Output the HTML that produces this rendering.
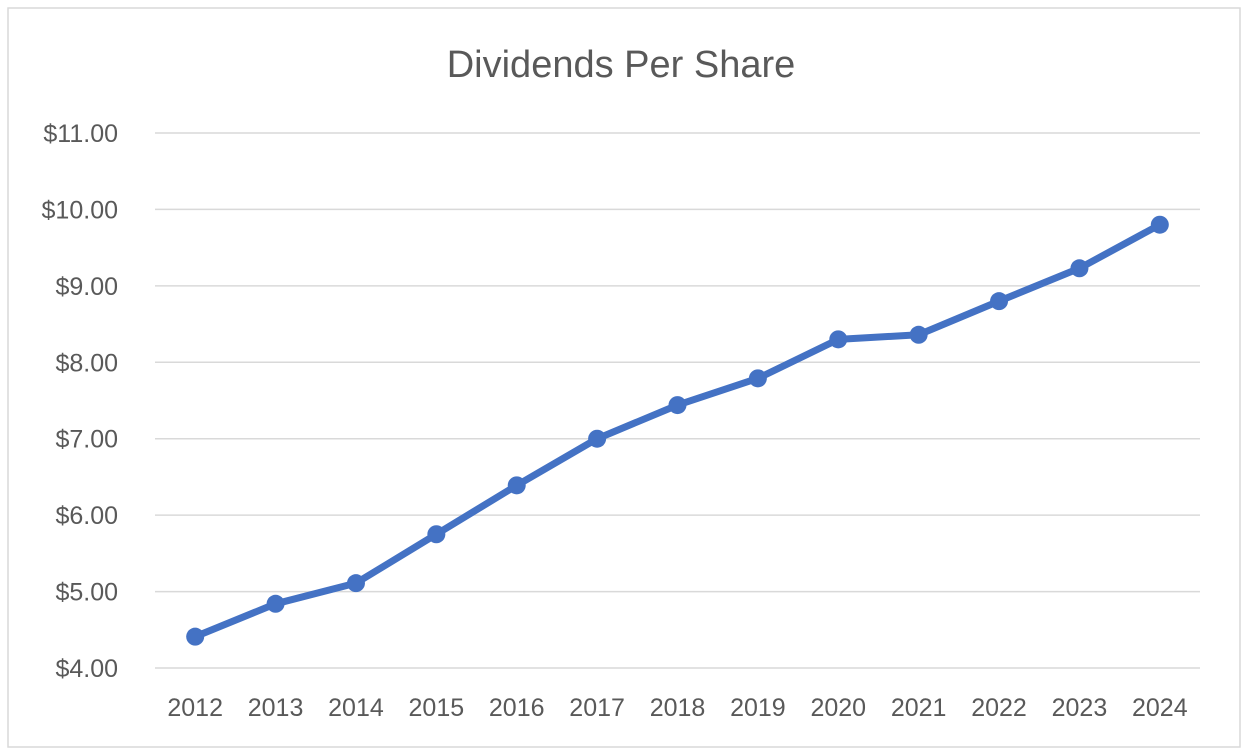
<!DOCTYPE html>
<html><head><meta charset="utf-8"><style>
html,body{margin:0;padding:0;background:#fff;}
svg{display:block;}
text{font-family:"Liberation Sans",sans-serif;fill:#595959;}
</style></head><body>
<svg id="chart" width="1248" height="755">
<rect x="8" y="8" width="1232" height="739" fill="#fff" stroke="#d9d9d9" stroke-width="1.5"/>
<text x="621" y="77" font-size="38" text-anchor="middle">Dividends Per Share</text>
<g id="grid"></g><g id="yticks"></g><g id="xticks"></g><g id="series"></g>
</svg>
<script>
const years=["2012","2013","2014","2015","2016","2017","2018","2019","2020","2021","2022","2023","2024"];
const dividends=[4.41,4.84,5.11,5.75,6.39,7.00,7.44,7.79,8.30,8.36,8.80,9.23,9.80];
const yTicks=[4,5,6,7,8,9,10,11];
const NS="http://www.w3.org/2000/svg";
const yMin=4,yMax=11,plotTop=133,plotBot=668,plotLeft=155,plotRight=1200;
const yScale=v=>plotBot-(v-yMin)/(yMax-yMin)*(plotBot-plotTop);
const step=(plotRight-plotLeft)/years.length;
const xScale=i=>plotLeft+step*(i+0.5);
function mk(tag,attrs,parent){const e=document.createElementNS(NS,tag);for(const k in attrs)e.setAttribute(k,attrs[k]);parent.appendChild(e);return e;}
const grid=document.getElementById('grid'),yt=document.getElementById('yticks'),xt=document.getElementById('xticks'),ser=document.getElementById('series');
yTicks.forEach(v=>{
 const l=mk('line',{x1:plotLeft,x2:plotRight,y1:yScale(v),y2:yScale(v),stroke:'#d9d9d9','stroke-width':1.5},grid);
 
 
 const t=mk('text',{x:118,y:yScale(v)+9,'font-size':25,'text-anchor':'end'},yt);
 t.textContent='$'+v.toFixed(2);
 
 
});
years.forEach((yr,i)=>{
 const t=mk('text',{x:xScale(i),y:716,'font-size':25,'text-anchor':'middle'},xt);
 t.textContent=yr;
 
 
});
const pl=mk('polyline',{points:dividends.map((v,i)=>xScale(i)+','+yScale(v)).join(' '),fill:'none',stroke:'#4472C4','stroke-width':7,'stroke-linejoin':'round','stroke-linecap':'round'},ser);


dividends.forEach((v,i)=>{
 const c=mk('circle',{cx:xScale(i),cy:yScale(v),r:9,fill:'#4472C4'},ser);
 
 
});
</script>
</body></html>
